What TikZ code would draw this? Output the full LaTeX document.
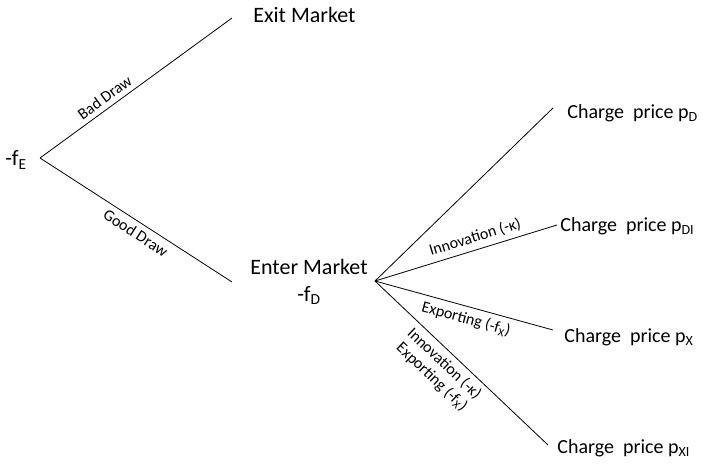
\documentclass[tikz,border=0pt]{standalone}
\usepackage{fontspec}
\setmainfont{Carlito}
\begin{document}
\begin{tikzpicture}[x=1pt,y=-1pt,line width=0.8pt,
  main/.style={font=\fontsize{20}{24}\selectfont, inner sep=0pt},
  big/.style={font=\fontsize{22}{27}\selectfont, inner sep=0pt},
  lab/.style={font=\fontsize{16}{18}\selectfont, inner sep=5pt, align=center}]
\useasboundingbox (0,0) rectangle (703,468);
% text nodes
\node[big, anchor=west] (fE) at (5,160) {-f\textsubscript{E}};
\node[big, anchor=west] (exit) at (253,15) {Exit Market};
\node[big, align=center] (enter) at (309,282) {Enter Market\\-f\textsubscript{D}};
\node[main, anchor=west] (pD) at (567,113) {Charge\ \ price p\textsubscript{D}};
\node[main, anchor=west] (pDI) at (560,226) {Charge\ \ price p\textsubscript{DI}};
\node[main, anchor=west] (pX) at (564,337) {Charge\ \ price p\textsubscript{X}};
\node[main, anchor=west] (pXI) at (557,448) {Charge\ \ price p\textsubscript{XI}};
% branch points
\coordinate (r) at (40,158);
\coordinate (ex) at (232,18);
\coordinate (en) at (232,282);
\coordinate (s) at (375,281);
\coordinate (eD) at (553,108);
\coordinate (eDI) at (557,225);
\coordinate (eX) at (553,330);
\coordinate (eXI) at (548,445);
% connectors
\draw (r) -- node[lab, sloped, above, pos=0.37] {Bad Draw} (ex);
\draw (r) -- node[lab, sloped, below, pos=0.53] {Good Draw} (en);
\draw (s) -- (eD);
\draw (s) -- node[lab, sloped, above, pos=0.57] {Innovation (-κ)} (eDI);
\draw (s) -- node[lab, sloped, below, pos=0.53] {Exporting (-f\textsubscript{X})} (eX);
\draw (s) -- node[lab, sloped, below, pos=0.45] {Innovation (-κ)\\Exporting (-f\textsubscript{X})} (eXI);
\end{tikzpicture}
\end{document}
